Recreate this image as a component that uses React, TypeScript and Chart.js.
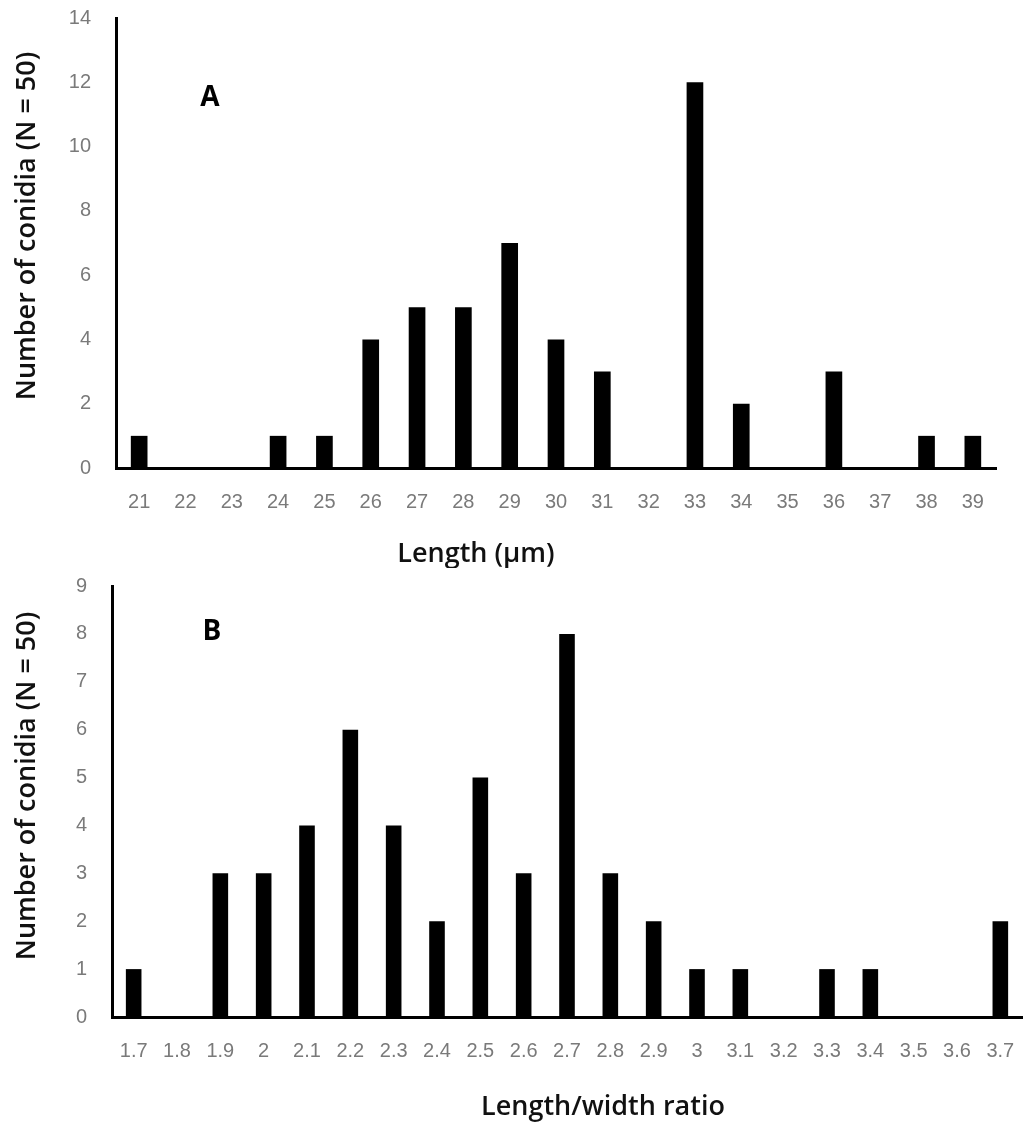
import React, { useEffect, useRef } from "react";
import { Chart, registerables } from "chart.js";

Chart.register(...registerables);

// Panel A: conidial length
const lengthCategories = ["21","22","23","24","25","26","27","28","29","30","31","32","33","34","35","36","37","38","39"];
const lengthCounts = [1,0,0,1,1,4,5,5,7,4,3,0,12,2,0,3,0,1,1];

// Panel B: length/width ratio
const ratioCategories = ["1.7","1.8","1.9","2","2.1","2.2","2.3","2.4","2.5","2.6","2.7","2.8","2.9","3","3.1","3.2","3.3","3.4","3.5","3.6","3.7"];
const ratioCounts = [1,0,3,3,4,6,4,2,5,3,8,3,2,1,1,0,1,1,0,0,2];

const yTitle = "Number of conidia (N = 50)";
const xTitleA = "Length (µm)";
const xTitleB = "Length/width ratio";

const TICK_FONT = { family: "'Liberation Sans', sans-serif", size: 20 };
const TITLE_FONT = "600 27px 'Open Sans', sans-serif";

type Panel = {
  labels: string[];
  values: number[];
  yMax: number;
  yStep: number;
  height: number;
  padTop: number;
  padRight: number;
  yWidth: number;
  chartBottom: number;
  letter: string;
  letterPos: [number, number];
  xTitle: string;
  xTitlePos: [number, number];
  yTitlePos: [number, number];
};

function makeConfig(p: Panel): any {
  const titlesPlugin = {
    id: "panelTitles",
    afterDraw(chart: any) {
      const ctx = chart.ctx;
      ctx.save();
      ctx.fillStyle = "#111";
      ctx.textAlign = "center";
      ctx.textBaseline = "middle";
      ctx.font = TITLE_FONT;
      ctx.fillText(p.xTitle, p.xTitlePos[0], p.xTitlePos[1]);
      ctx.save();
      ctx.translate(p.yTitlePos[0], p.yTitlePos[1]);
      ctx.rotate(-Math.PI / 2);
      ctx.fillText(yTitle, 0, 0);
      ctx.restore();
      ctx.fillStyle = "#000";
      ctx.font = "bold 28px 'Open Sans', sans-serif";
      ctx.fillText(p.letter, p.letterPos[0], p.letterPos[1]);
      ctx.restore();
    },
  };
  return {
    type: "bar",
    data: {
      labels: p.labels,
      datasets: [
        {
          data: p.values,
          backgroundColor: "#000",
          borderWidth: 0,
          categoryPercentage: 1,
          barPercentage: 0.36,
        },
      ],
    },
    options: {
      responsive: false,
      animation: false,
      layout: { padding: { top: p.padTop, right: p.padRight, left: 0, bottom: 0 } },
      plugins: { legend: { display: false }, tooltip: { enabled: false }, title: { display: false } },
      scales: {
        x: {
          offset: true,
          grid: { display: false, drawTicks: false },
          border: { display: true, color: "#000", width: 3 },
          ticks: { color: "#7a7a7a", font: TICK_FONT, padding: 22, maxRotation: 0, autoSkip: false },
          afterFit(scale: any) {
            scale.height = p.height - p.chartBottom;
            scale.paddingLeft = 0;
            scale.paddingRight = 0;
          },
        },
        y: {
          min: 0,
          max: p.yMax,
          grid: { display: false, drawTicks: false },
          border: { display: true, color: "#000", width: 3 },
          ticks: { stepSize: p.yStep, color: "#7a7a7a", font: TICK_FONT, padding: 25 },
          afterFit(scale: any) {
            scale.width = p.yWidth;
            scale.paddingTop = 0;
            scale.paddingBottom = 0;
          },
        },
      },
    },
    plugins: [titlesPlugin],
  };
}

const panelA: Panel = {
  labels: lengthCategories,
  values: lengthCounts,
  yMax: 14,
  yStep: 2,
  height: 568,
  padTop: 18,
  padRight: 29,
  yWidth: 116,
  chartBottom: 468,
  letter: "A",
  letterPos: [210, 98],
  xTitle: xTitleA,
  xTitlePos: [476, 554],
  yTitlePos: [27, 226],
};

const panelB: Panel = {
  labels: ratioCategories,
  values: ratioCounts,
  yMax: 9,
  yStep: 1,
  height: 565,
  padTop: 18,
  padRight: 3,
  yWidth: 112,
  chartBottom: 449,
  letter: "B",
  letterPos: [212, 64],
  xTitle: xTitleB,
  xTitlePos: [603, 539],
  yTitlePos: [27, 218],
};

function ChartCanvas({ panel, top }: { panel: Panel; top: number }) {
  const ref = useRef<HTMLCanvasElement | null>(null);
  useEffect(() => {
    if (!ref.current) return;
    const chart = new Chart(ref.current, makeConfig(panel));
    return () => chart.destroy();
  }, [panel]);
  return (
    <canvas
      ref={ref}
      width={1025}
      height={panel.height}
      style={{ position: "absolute", left: 0, top, width: 1025, height: panel.height }}
    />
  );
}

export default function App() {
  return (
    <div style={{ position: "absolute", left: 0, top: 0, width: 1025, height: 1133, background: "#fff", overflow: "hidden" }}>
      <ChartCanvas panel={panelA} top={0} />
      <ChartCanvas panel={panelB} top={568} />
    </div>
  );
}
